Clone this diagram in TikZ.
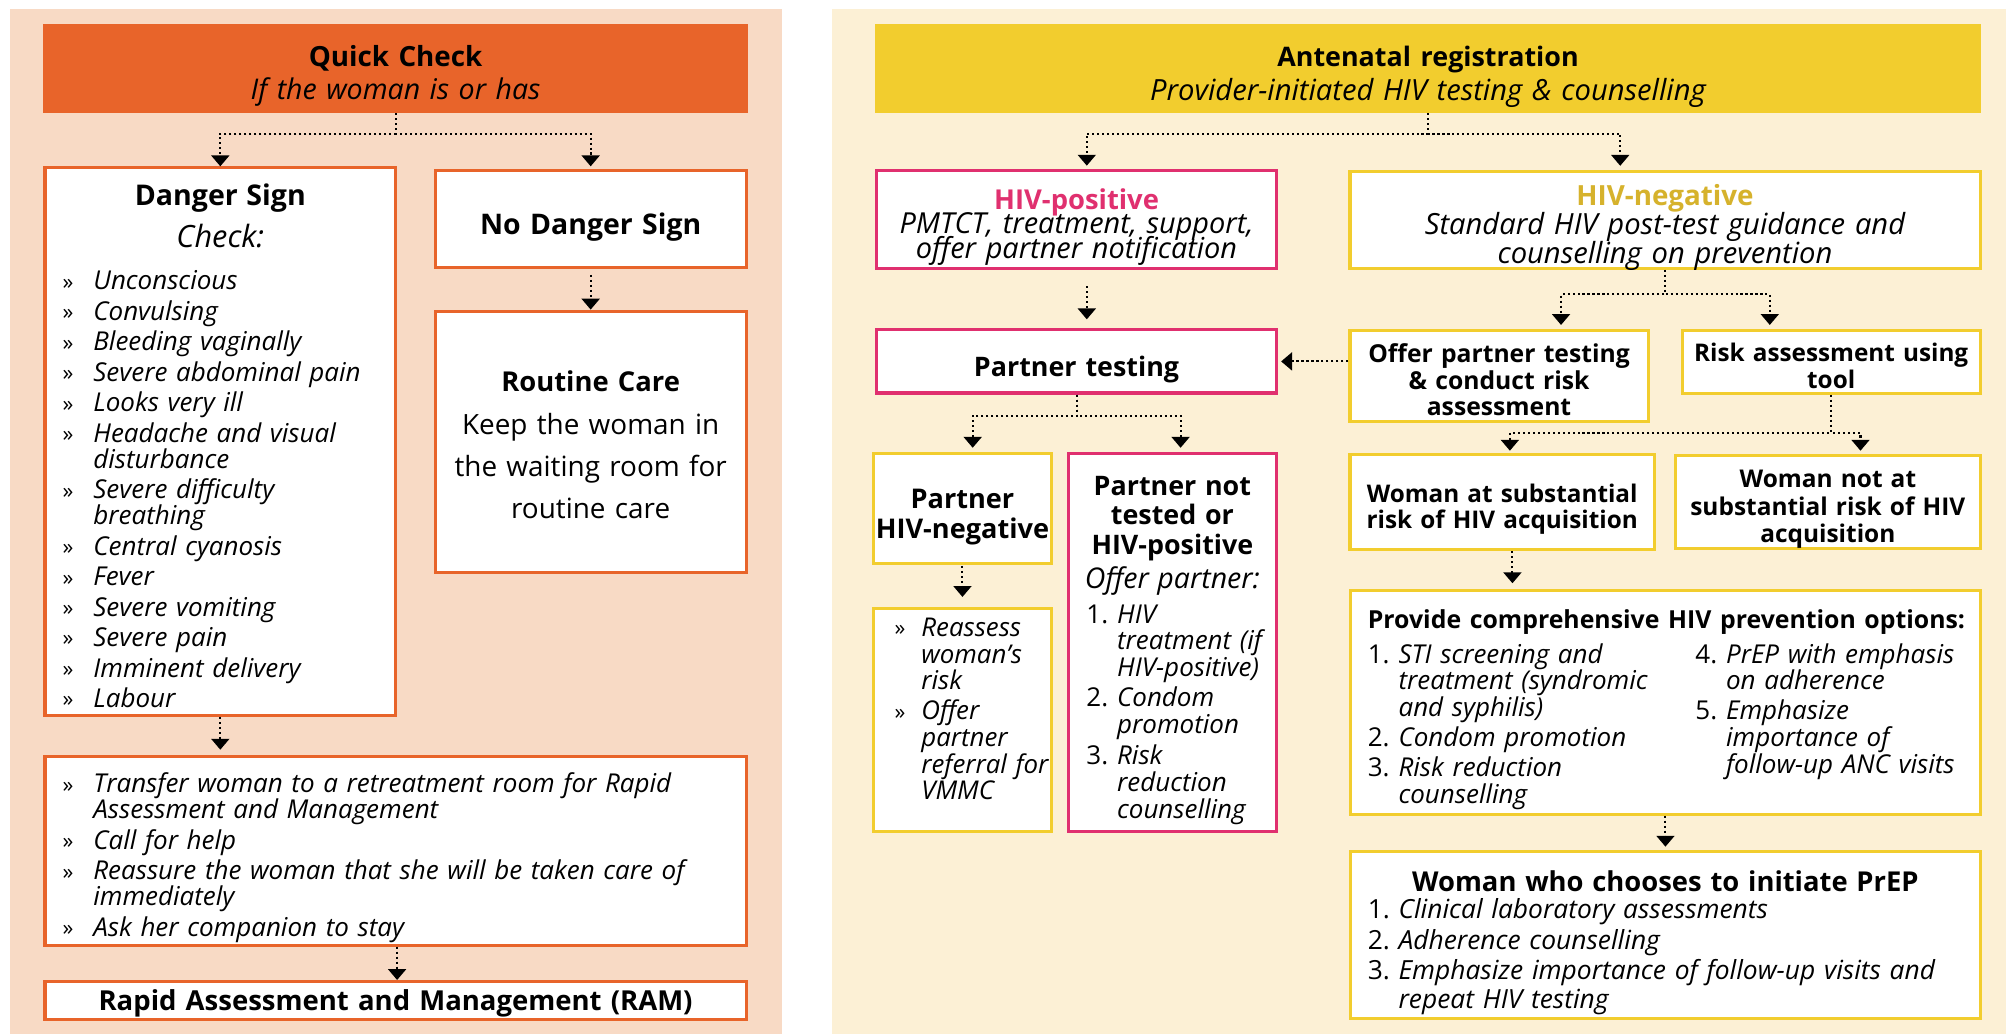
\documentclass[tikz,border=0pt]{standalone}
\usepackage{fontspec}
\setmainfont{Open Sans}
\usetikzlibrary{arrows.meta,calc}
\definecolor{peach}{HTML}{F8DAC5}
\definecolor{cream}{HTML}{FCF0D5}
\definecolor{qor}{HTML}{E8642A}
\definecolor{yel}{HTML}{F2CD2E}
\definecolor{pnk}{HTML}{E0306F}
\definecolor{gold}{HTML}{D6B22C}
\newlength{\indw}\setlength{\indw}{24pt}
\newcommand\fsz[2]{\fontsize{#1}{#2}\selectfont\lineskiplimit=-100pt\relax}
\newcommand\Bul[1]{\makebox[\indw][l]{\upshape\fsz{17}{20}\raisebox{0.5pt}{»}}\mbox{#1}}
\newcommand\Cont[1]{\hspace*{\indw}\mbox{#1}}
\newcommand\Num[2]{\makebox[\indw][l]{\upshape #1.}\mbox{#2}}
\newcommand\Ctr[1]{\makebox[\linewidth]{#1}}
\tikzset{
  bx/.style={draw=#1, line width=2.4pt, fill=white, anchor=north west, inner ysep=0pt},
  geom/.style n args={4}{inner xsep=#1pt, minimum width=#2pt, text width={#2pt-2*#1pt}, text height=#3pt, text depth=#4pt},
  conn/.style={line width=1.6pt, dash pattern=on 1.6pt off 2.3pt, -{Triangle[width=14pt,length=8.5pt]}},
}
\begin{document}
\begin{tikzpicture}[x=1pt,y=-1pt]
\useasboundingbox (0,0) rectangle (1568,808);
\fill[peach] (8,7) rectangle (611,808);
\fill[cream] (650,7) rectangle (1568,808);

% ---------------- left panel ----------------
\node[bx=qor, fill=qor, geom={10}{548}{31.8}{35.2}, align=center, font=\fsz{22.3}{26}] (qc) at (34,19)
  {{\bfseries\fsz{21.7}{26}Quick Check}\\{\itshape If the woman is or has}};

\node[bx=qor, geom={13.8}{274}{29.5}{398.5}, align=left, font=\fsz{20.3}{20.4}\itshape] (ds) at (34,130) {%
{\centering{\upshape\bfseries\fsz{22.3}{20.4}Danger Sign}\\[12.4pt]{\fsz{24}{20.4}Check:}\par}%
\vspace{12.7pt}%
\Bul{Unconscious}\\[3.4pt]
\Bul{Convulsing}\\[3.4pt]
\Bul{Bleeding vaginally}\\[3.4pt]
\Bul{Severe abdominal pain}\\[3.4pt]
\Bul{Looks very ill}\\[3.4pt]
\Bul{Headache and visual}\\
\Cont{disturbance}\\[3.4pt]
\Bul{Severe difficulty}\\
\Cont{breathing}\\[3.4pt]
\Bul{Central cyanosis}\\[3.4pt]
\Bul{Fever}\\[3.4pt]
\Bul{Severe vomiting}\\[3.4pt]
\Bul{Severe pain}\\[3.4pt]
\Bul{Imminent delivery}\\[3.4pt]
\Bul{Labour}};

\node[bx=qor, geom={3}{243}{50.4}{25.6}, align=center, font=\fsz{22.2}{20}\bfseries] (nds) at (339,132) {No Danger Sign};

\node[bx=qor, geom={3}{243}{62.9}{141.1}, align=center, font=\fsz{21.8}{32.6}] (rc) at (339,242)
  {{\bfseries\fsz{21.4}{32.6}Routine Care}\\[1.2pt]Keep the woman in\\the waiting room for\\routine care};

\node[bx=qor, geom={13.8}{548}{28.5}{119}, align=left, font=\fsz{20.3}{20.4}\itshape] (tr) at (34,590) {%
\Bul{Transfer woman to a retreatment room for Rapid}\\
\Cont{Assessment and Management}\\[3.4pt]
\Bul{Call for help}\\[3.4pt]
\Bul{Reassure the woman that she will be taken care of}\\
\Cont{immediately}\\[3.4pt]
\Bul{Ask her companion to stay}};

\node[bx=qor, geom={3}{548}{23}{6.5}, align=center, font=\fsz{21.5}{20}\bfseries] (ram) at (34,766)
  {Rapid Assessment and Management (RAM)};

\draw[conn] (qc.south) -- ++(0,16) -| (ds.north);
\draw[conn, shorten >=2pt] (qc.south) -- ++(0,16) -| (nds.north);
\draw[conn, shorten <=4.5pt] (nds.south) -- (rc.north);
\draw[conn, shorten >=4pt] (ds.south) -- (ds.south |- tr.north);
\draw[conn] (tr.south -| ds.east) -- (ram.north -| ds.east);

% ---------------- right panel ----------------
\node[bx=yel, fill=yel, geom={10}{862}{32}{35}, align=center, font=\fsz{22.8}{26}] (an) at (684,19)
  {{\bfseries\fsz{21}{26}Antenatal registration}\\{\itshape Provider-initiated HIV testing \& counselling}};

\node[bx=pnk, geom={3}{312.6}{30.8}{45.7}, align=center, font=\fsz{22.6}{18.9}] (hp) at (684,132)
  {{\color{pnk}\bfseries\fsz{21.4}{18.9}HIV-positive}\\{\itshape PMTCT, treatment, support,}\\{\itshape offer partner notification}};

\node[bx=yel, geom={3}{492.5}{26.5}{49.4}, align=center, font=\fsz{22.8}{23}] (hn) at (1054,132.6)
  {{\color{gold}\bfseries\fsz{21.7}{23}HIV-negative}\\{\itshape Standard HIV post-test guidance and}\\{\itshape counselling on prevention}};

\node[bx=pnk, geom={3}{312.6}{36.5}{12.9}, align=center, font=\fsz{21}{20}\bfseries] (ptest) at (684,256.6) {Partner testing};

\node[bx=yel, geom={3}{233}{25.2}{46.5}, align=center, font=\fsz{19.3}{20.9}\bfseries] (of) at (1054,256.8)
  {Offer partner testing\\\& conduct risk\\assessment};

\node[bx=yel, geom={3}{232.7}{24.6}{24.9}, align=center, font=\fsz{19}{20.9}\bfseries] (ra) at (1313.8,256.8)
  {Risk assessment using\\tool};

\node[bx=yel, geom={3}{238}{38}{36.8}, align=center, font=\fsz{19}{20.1}\bfseries] (wa) at (1054,353.7)
  {Woman at substantial\\risk of HIV acquisition};

\node[bx=yel, geom={3}{237.9}{25.2}{47.5}, align=center, font=\fsz{19.1}{21.3}\bfseries] (wn) at (1308.6,355)
  {Woman not at\\substantial risk of HIV\\acquisition};

\node[bx=yel, geom={1}{139.4}{43.6}{42.4}, align=center, font=\fsz{21.2}{22.9}\bfseries] (pn) at (681.4,353)
  {Partner\\HIV-negative};

\node[bx=pnk, geom={14.2}{162.8}{33.2}{262.6}, align=left, font=\fsz{20.3}{20.8}\itshape] (pnt) at (833.8,353) {%
\Ctr{\upshape\bfseries\fsz{21}{20.8}Partner not}\\[2.1pt]
\Ctr{\upshape\bfseries\fsz{21}{20.8}tested or}\\[2.1pt]
\Ctr{\upshape\bfseries\fsz{21}{20.8}HIV-positive}\\[5.8pt]
\Ctr{\fsz{22.3}{20.8}Offer partner:}\par
\vspace{6.6pt}%
\Num{1}{HIV}\\
\Cont{treatment (if}\\
\Cont{HIV-positive)}\\[2.7pt]
\Num{2}{Condom}\\
\Cont{promotion}\\[4pt]
\Num{3}{Risk}\\
\Cont{reduction}\\
\Cont{counselling}};

\node[bx=yel, geom={16.6}{139.4}{21.8}{152.4}, align=left, font=\fsz{20.2}{20.8}\itshape] (rs) at (681.4,474.6) {%
\setlength{\indw}{21pt}%
\Bul{Reassess}\\
\Cont{woman’s}\\
\Cont{risk}\\[2.7pt]
\Bul{Offer}\\
\Cont{partner}\\
\Cont{referral for}\\
\Cont{VMMC}};

\node[bx=yel, geom={13.4}{492}{29.2}{145.3}, align=left, font=\fsz{20.3}{20.8}\itshape] (pc) at (1054.6,460.7) {%
\mbox{\upshape\bfseries\fsz{19.4}{20.8}Provide comprehensive HIV prevention options:}\par
\vspace{6.5pt}%
\begin{minipage}[t]{256pt}\raggedright
\Num{1}{STI screening and}\\
\Cont{treatment (syndromic}\\
\Cont{and syphilis)}\\[2.6pt]
\Num{2}{Condom promotion}\\[2.7pt]
\Num{3}{Risk reduction}\\
\Cont{counselling}
\end{minipage}\begin{minipage}[t]{205pt}\raggedright
\Num{4}{PrEP with emphasis}\\
\Cont{on adherence}\\[2.7pt]
\Num{5}{Emphasize}\\
\Cont{importance of}\\
\Cont{follow-up ANC visits}
\end{minipage}};

\node[bx=yel, geom={13.4}{492}{31.3}{99}, align=left, font=\fsz{20.6}{20.8}\itshape] (pr) at (1054.6,664.4) {%
{\centering\upshape\bfseries\fsz{21.4}{20.8}Woman who chooses to initiate PrEP\par}%
\Num{1}{Clinical laboratory assessments}\\[4pt]
\Num{2}{Adherence counselling}\\[2.7pt]
\Num{3}{Emphasize importance of follow-up visits and}\\[1.3pt]
\Cont{repeat HIV testing}};

\draw[conn, shorten >=2.5pt] (an.south) -- ++(0,16) -| ([xshift=8pt]hp.north);
\draw[conn, shorten >=3pt] (an.south) -- ++(0,16) -| ([xshift=-35pt]hn.north);
\draw[conn, shorten <=13pt, shorten >=7pt] ([xshift=8pt]hp.south) -- ([xshift=8pt]ptest.north);
\draw[conn, shorten >=2.8pt] (hn.south) -- ++(0,19) -| ([xshift=48.5pt]of.north);
\draw[conn, shorten >=2.8pt] (hn.south) -- ++(0,19) -| ([xshift=-48pt]ra.north);
\draw[conn, shorten >=2.4pt] (of.west |- ptest.east) -- (ptest.east);
\draw[conn, shorten >=3pt] (ptest.south) -- ++(0,16.8) -| ([xshift=8pt]pn.north);
\draw[conn, shorten >=3pt] (ptest.south) -- ++(0,16.8) -| ([xshift=6.4pt]pnt.north);
\draw[conn, shorten >=1.4pt] (ra.south) -- ++(0,29.5) -| ([xshift=6pt]wa.north);
\draw[conn, shorten >=2.7pt] (ra.south) -- ++(0,29.5) -| ([xshift=25.5pt]wn.north);
\draw[conn, shorten >=4.8pt] ([xshift=8pt]wa.south) -- ([xshift=8pt]wa.south |- pc.north);
\draw[conn, shorten >=2.6pt] (pc.south) -- (pr.north);
\draw[conn, shorten <=1pt, shorten >=8pt] (pn.south) -- (rs.north);
\end{tikzpicture}
\end{document}
